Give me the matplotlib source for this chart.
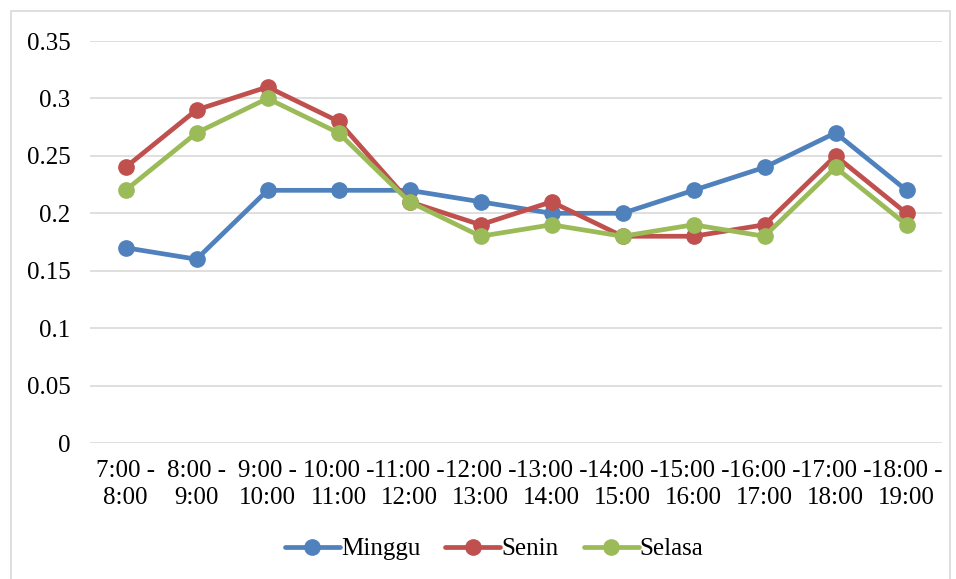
import matplotlib.pyplot as plt
from matplotlib.patches import Rectangle

plt.rcParams['font.family'] = ['Liberation Serif', 'DejaVu Serif']

labels = ['7:00 -\n8:00', '8:00 -\n9:00', '9:00 -\n10:00', '10:00 -\n11:00', '11:00 -\n12:00',
          '12:00 -\n13:00', '13:00 -\n14:00', '14:00 -\n15:00', '15:00 -\n16:00', '16:00 -\n17:00',
          '17:00 -\n18:00', '18:00 -\n19:00']
minggu = [0.17, 0.16, 0.22, 0.22, 0.22, 0.21, 0.20, 0.20, 0.22, 0.24, 0.27, 0.22]
senin = [0.24, 0.29, 0.31, 0.28, 0.21, 0.19, 0.21, 0.18, 0.18, 0.19, 0.25, 0.20]
selasa = [0.22, 0.27, 0.30, 0.27, 0.21, 0.18, 0.19, 0.18, 0.19, 0.18, 0.24, 0.19]

series = [('Minggu', minggu, '#4F81BD'), ('Senin', senin, '#C0504D'), ('Selasa', selasa, '#9BBB59')]

fig = plt.figure(figsize=(9.56, 5.79), dpi=100)
ax = fig.add_axes([90/956, 1 - 443/579, 852/956, 402/579])

x = range(len(labels))
for name, vals, col in series:
    ax.plot(x, vals, color=col, lw=3.4, marker='o', ms=11, label=name, solid_capstyle='round')

ax.set_xlim(-0.5, len(labels) - 0.5)
ax.set_ylim(0, 0.35)
ax.set_yticks([0, 0.05, 0.1, 0.15, 0.2, 0.25, 0.3, 0.35])
ax.set_yticklabels(['0', '0.05', '0.1', '0.15', '0.2', '0.25', '0.3', '0.35'])
ax.set_xticks(list(x))
ax.set_xticklabels(labels, linespacing=1.3)
ax.tick_params(length=0, labelsize=18, colors='black')
ax.tick_params(axis='y', pad=14)
ax.tick_params(axis='x', pad=12)
ax.grid(axis='y', color='#D9D9D9', lw=1.2)
ax.set_axisbelow(True)
for s in ax.spines.values():
    s.set_visible(False)

fig.legend(loc='center', bbox_to_anchor=(494/956, 1 - 549/579), ncol=3, frameon=False,
           fontsize=18, handlelength=2.2, columnspacing=1.0, handletextpad=0.05)

fig.patches.append(Rectangle((11/956, -0.05), 939/956, 1.05 - 11/579, transform=fig.transFigure,
                             fill=False, edgecolor='#D9D9D9', lw=1.2))

fig.savefig('out.png', dpi=100)
